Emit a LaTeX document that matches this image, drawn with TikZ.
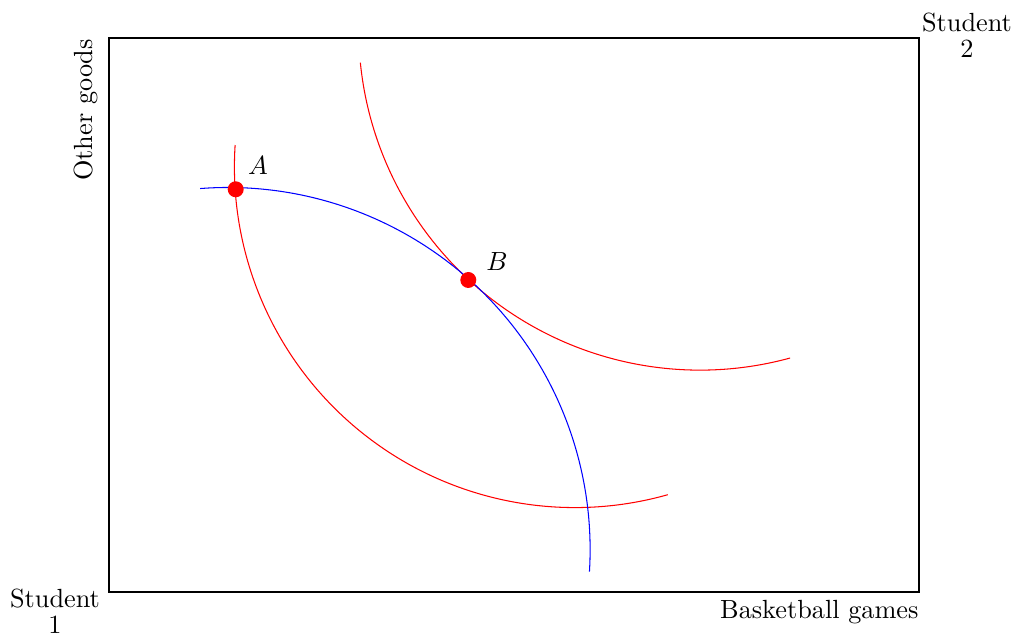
\documentclass[tikz,border=0pt]{standalone}
\usetikzlibrary{calc}
\begin{document}
\begin{tikzpicture}[x=0.013387cm,y=0.013387cm,
  dot/.style={circle,fill=red,draw=none,inner sep=0pt,minimum size=0.214cm},
  lbl/.style={inner sep=1pt},
  icurve/.style={red,line width=0.4pt},
  pcurve/.style={blue,line width=0.4pt}]
\useasboundingbox (0,0) rectangle (1016,639);
\draw (109,47) coordinate (o) rectangle (919,601) coordinate (tr);
% centres of the arcs
\coordinate (c1) at (575,472);
\coordinate (c2) at (700,610.2);
\coordinate (cb) at (228,89.4);
% curves
\draw[icurve] ($(c1)+(176.3:4.558cm)$) arc[start angle=176.3,end angle=285.8,radius=4.558cm];
\draw[icurve] ($(c2)+(185.7:4.568cm)$) arc[start angle=185.7,end angle=285.3,radius=4.568cm];
\draw[pcurve] ($(cb)+(94.4:4.846cm)$) arc[start angle=94.4,end angle=-3.5,radius=4.846cm];
% points
\node[dot] (A) at (235.7,449.7) {};
\node[dot] (B) at (468.3,359) {};
\node[lbl] (Al) at (258,473) {$A$};
\node[lbl] (Bl) at (497,377) {$B$};
% labels
\node[align=center] (s1) at (55,28) {Student\\[-2pt]1};
\node[align=center] (s2) at (967,604) {Student\\[-2pt]2};
\node[rotate=90] (yl) at (86,529) {Other goods};
\node[anchor=east,inner sep=0pt] (xl) at (919,27) {Basketball games};
\end{tikzpicture}
\end{document}
